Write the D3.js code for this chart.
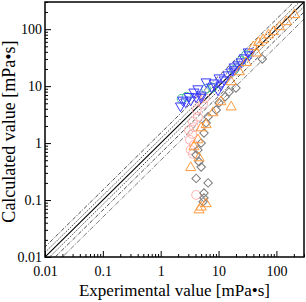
<!DOCTYPE html>
<html>
<head>
<meta charset="utf-8">
<script src="https://cdn.jsdelivr.net/npm/d3@7"></script>
<style>
    body { margin: 0; background: #fff; }
    svg { display: block; }
</style>
</head>
<body>
<svg id="chart"></svg>
<script>
// axis ticks
const majorTicks = [0.01, 0.1, 1, 10, 100];
const tickLabels = ["0.01", "0.1", "1", "10", "100"];

// series: [experimental, calculated]
const blueExp  = [2.2, 2.4, 2.7, 3.1, 3.3, 3.75, 4.1, 4.4, 5.0, 5.0, 6.1, 7.6, 8.4, 9.8, 10.2, 11.0, 12.5, 14.6, 16.5, 18.6, 18.6, 21.8, 24.6, 27.7, 32.6, 33.9];
const blueCalc = [4.5, 5.7, 5.3, 6.6, 5.7, 7.9, 6.5, 9.0, 7.0, 6.4, 11.9, 9.7, 11.4, 8.6, 14.0, 10.5, 12.9, 15.8, 17.8, 19.4, 21.8, 23.7, 26.7, 31.4, 40.0, 35.5];

const greenExp  = [2.3, 2.8, 6.1, 7.8, 18.6, 24.6, 30.0];
const greenCalc = [6.0, 6.5, 9.0, 9.4, 19.4, 28.0, 35.5];

const pinkExp  = [4.6, 5.8, 5.4, 4.2, 4.4, 3.6, 3.75, 3.07, 3.5, 3.2, 3.75, 3.3, 3.6, 4.1];
const pinkCalc = [5.7, 6.2, 4.9, 3.8, 2.9, 2.4, 1.9, 1.7, 1.45, 1.14, 0.93, 0.76, 0.65, 0.123];

const grayExp  = [57, 20, 15.2, 13, 10.2, 9.1, 6.6, 6.1, 5.6, 5.0, 4.4, 4.1, 4.6, 5.0, 4.1, 6.6, 5.6, 5.6, 5.4];
const grayCalc = [30, 9.3, 7.9, 6.5, 5.1, 3.8, 2.9, 2.26, 1.5, 1.0, 0.76, 0.62, 0.47, 0.38, 0.24, 0.2, 0.133, 0.109, 0.093];

const orangeExp  = [206, 149, 113, 89, 73, 59, 49, 40, 45, 30, 23, 16.5, 16.5, 11, 8.0, 6.1, 5.0, 4.4, 3.75, 3.3, 4.6, 4.6, 6.1, 5.0];
const orangeCalc = [179, 135, 110, 90, 79, 65, 58, 49, 38, 26, 17.8, 11.9, 4.3, 5.3, 3.4, 2.1, 1.85, 1.14, 0.86, 0.37, 0.55, 0.067, 0.086, 0.075];

// reference lines: calculated = ratio * experimental
const refRatios = [1.5, 1.2, 1, 1 / 1.2, 1 / 1.5, 1 / 2];

const serif = "'Liberation Serif', 'Times New Roman', serif";

const config = {
    width: 306, height: 302,
    margin: { top: 2, right: 2, bottom: 45, left: 45 },
    domain: [0.01, 300]
};

const svg = d3.select("#chart")
    .attr("width", config.width)
    .attr("height", config.height)
    .attr("font-family", serif);

const x = d3.scaleLog()
    .domain(config.domain)
    .range([config.margin.left, config.width - config.margin.right]);

const y = d3.scaleLog()
    .domain(config.domain)
    .range([config.height - config.margin.bottom, config.margin.top]);

// minor ticks 2..9 per decade
const minorTicks = [];
for (const d of majorTicks) {
    for (let k = 2; k <= 9; k++) {
        const v = +(d * k).toPrecision(3);
        if (v <= config.domain[1]) minorTicks.push(v);
    }
}

const plot = svg.append("g");
plot.append("clipPath").attr("id", "clip")
    .append("rect")
    .attr("x", x.range()[0]).attr("y", y.range()[1])
    .attr("width", x.range()[1] - x.range()[0])
    .attr("height", y.range()[0] - y.range()[1]);

// reference lines
const lineStyle = {
    1.5: { dash: "4,1.5,1,1.5", color: "#222", w: 0.8 },
    1.2: { dash: "1.5,1.2", color: "#222", w: 0.8 },
    1: { dash: null, color: "#000", w: 1.1 },
    2: { dash: "5,1.5,1,1.5", color: "#444", w: 0.7 }
};
const lines = plot.append("g").attr("clip-path", "url(#clip)");
refRatios.forEach(r => {
    const key = r >= 1 ? r : +(1 / r).toFixed(1);
    const s = lineStyle[key];
    lines.append("line")
        .attr("x1", x(config.domain[0] / 10)).attr("y1", y(config.domain[0] / 10 * r))
        .attr("x2", x(config.domain[1] * 10)).attr("y2", y(config.domain[1] * 10 * r))
        .attr("stroke", s.color)
        .attr("stroke-width", s.w)
        .attr("stroke-dasharray", s.dash);
});

// markers
const marks = plot.append("g").attr("clip-path", "url(#clip)").attr("fill", "none").attr("stroke-width", 1);

function drawSeries(xs, ys, type, color) {
    const data = xs.map((v, i) => [v, ys[i]]);
    const sym = {
        circle: d3.symbol(d3.symbolCircle, 62),
        diamond: d3.symbol(d3.symbolSquare, 36),
        up: d3.symbol(d3.symbolTriangle, 44),
        down: d3.symbol(d3.symbolTriangle, 44)
    }[type];
    marks.append("g").selectAll("path")
        .data(data)
        .join("path")
        .attr("d", sym)
        .attr("stroke", color)
        .attr("transform", d => {
            let t = `translate(${x(d[0])},${y(d[1])})`;
            if (type === "diamond") t += " rotate(45)";
            if (type === "down") t += " rotate(180)";
            return t;
        });
}

drawSeries(pinkExp, pinkCalc, "circle", "#ffb0b0");
drawSeries(greenExp, greenCalc, "circle", "#44c98a");
drawSeries(blueExp, blueCalc, "down", "#3a3aff");
drawSeries(grayExp, grayCalc, "diamond", "#7a7a7a");
drawSeries(orangeExp, orangeCalc, "up", "#ff9a3c");

// axes
const fmt = d => tickLabels[majorTicks.indexOf(d)];
const y0 = y.range()[0];
const x0 = x.range()[0];

const xAxis = svg.append("g").attr("transform", `translate(0,${y0})`);
xAxis.call(d3.axisBottom(x).tickValues(minorTicks).tickSize(-3).tickFormat(""))
    .call(g => g.select(".domain").remove());
xAxis.append("g").call(d3.axisBottom(x).tickValues(majorTicks).tickSize(-6).tickPadding(9).tickFormat(fmt))
    .attr("font-family", serif).attr("font-size", 14)
    .call(g => g.select(".domain").remove())
    .call(g => g.selectAll("text").attr("fill", "#000"));

const yAxis = svg.append("g").attr("transform", `translate(${x0},0)`);
yAxis.call(d3.axisLeft(y).tickValues(minorTicks).tickSize(-3).tickFormat(""))
    .call(g => g.select(".domain").remove());
yAxis.append("g").call(d3.axisLeft(y).tickValues(majorTicks).tickSize(-6).tickPadding(3).tickFormat(fmt))
    .attr("font-family", serif).attr("font-size", 14)
    .call(g => g.select(".domain").remove())
    .call(g => g.selectAll("text").attr("fill", "#000").attr("x", -3));

svg.selectAll(".tick line").attr("stroke", "#000").attr("stroke-width", 1);

// frame
svg.append("rect")
    .attr("x", x.range()[0]).attr("y", y.range()[1])
    .attr("width", x.range()[1] - x.range()[0])
    .attr("height", y.range()[0] - y.range()[1])
    .attr("fill", "none")
    .attr("stroke", "#000")
    .attr("stroke-width", 1.5);

// titles
svg.append("text")
    .attr("x", (x.range()[0] + x.range()[1]) / 2)
    .attr("y", 296)
    .attr("text-anchor", "middle")
    .attr("font-size", 17)
    .text("Experimental value [mPa•s]");

svg.append("text")
    .attr("transform", `translate(15,${(y.range()[0] + y.range()[1]) / 2 + 2}) rotate(-90)`)
    .attr("text-anchor", "middle")
    .attr("font-size", 18)
    .text("Calculated value [mPa•s]");
</script>
</body>
</html>
